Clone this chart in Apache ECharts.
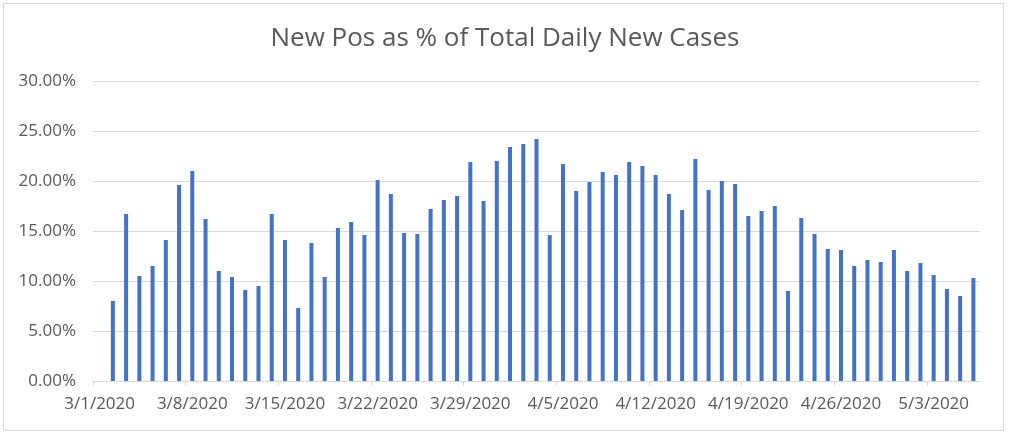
<!DOCTYPE html>
<html>
<head>
<meta charset="utf-8">
<script src="https://cdn.jsdelivr.net/npm/echarts@6/dist/echarts.min.js"></script>
<style>html,body{margin:0;padding:0;background:#fff}#c{width:1010px;height:433px}</style>
</head>
<body>
<div id="c"></div>
<script>
const titleText = 'New Pos as % of Total Daily New Cases';
const dates = [
 '3/1/2020','3/2/2020','3/3/2020','3/4/2020','3/5/2020','3/6/2020','3/7/2020','3/8/2020','3/9/2020','3/10/2020',
 '3/11/2020','3/12/2020','3/13/2020','3/14/2020','3/15/2020','3/16/2020','3/17/2020','3/18/2020','3/19/2020','3/20/2020',
 '3/21/2020','3/22/2020','3/23/2020','3/24/2020','3/25/2020','3/26/2020','3/27/2020','3/28/2020','3/29/2020','3/30/2020',
 '3/31/2020','4/1/2020','4/2/2020','4/3/2020','4/4/2020','4/5/2020','4/6/2020','4/7/2020','4/8/2020','4/9/2020',
 '4/10/2020','4/11/2020','4/12/2020','4/13/2020','4/14/2020','4/15/2020','4/16/2020','4/17/2020','4/18/2020','4/19/2020',
 '4/20/2020','4/21/2020','4/22/2020','4/23/2020','4/24/2020','4/25/2020','4/26/2020','4/27/2020','4/28/2020','4/29/2020',
 '4/30/2020','5/1/2020','5/2/2020','5/3/2020','5/4/2020','5/5/2020','5/6/2020'
];
// percent values (3/1 has no bar)
const newPosPct = [
 null,8.0,16.7,10.5,11.5,14.1,19.6,21.0,16.2,11.0,
 10.4,9.1,9.5,16.7,14.1,7.3,13.8,10.4,15.3,15.9,
 14.6,20.1,18.7,14.8,14.7,17.2,18.1,18.5,21.9,18.0,
 22.0,23.4,23.7,24.2,14.6,21.7,19.0,19.9,20.9,20.6,
 21.9,21.5,20.6,18.7,17.1,22.2,19.1,20.0,19.7,16.5,
 17.0,17.5,9.0,16.3,14.7,13.2,13.1,11.5,12.1,11.9,
 13.1,11.0,11.8,10.6,9.2,8.5,10.3
];
const yMin = 0, yMax = 30, yStep = 5;
const labelEvery = 7;
const tickIdx = dates.map((d, i) => i).filter(i => i % labelEvery === 0);

const chart = echarts.init(document.getElementById('c'), null, {renderer:'canvas'});
const textColor = '#595959';
const lineColor = '#d9d9d9';
chart.setOption({
  animation: false,
  backgroundColor: '#ffffff',
  title: {
    text: titleText,
    left: 'center',
    top: 21,
    textStyle: {fontFamily: 'Open Sans', fontSize: 26, fontWeight: 'normal', color: textColor}
  },
  graphic: [{
    type: 'rect', silent: true, z: -1,
    shape: {x: 3.5, y: 3.5, width: 1000, height: 427},
    style: {fill: 'none', stroke: lineColor, lineWidth: 1}
  }],
  grid: {left: 93, right: 30, top: 81, bottom: 52, containLabel: false},
  xAxis: [{
    type: 'category',
    data: dates,
    boundaryGap: true,
    axisLine: {show: true, lineStyle: {color: lineColor, width: 1}},
    axisTick: {show: false},
    axisLabel: {interval: labelEvery - 1, color: textColor, fontFamily: 'Open Sans', fontSize: 17, margin: 15}
  }, {
    type: 'value',
    position: 'bottom',
    min: 0, max: dates.length, interval: labelEvery,
    axisLine: {show: false},
    axisLabel: {show: false},
    splitLine: {show: false},
    axisTick: {show: true, length: 5, customValues: tickIdx, lineStyle: {color: lineColor}}
  }],
  yAxis: {
    type: 'value',
    min: yMin, max: yMax, interval: yStep,
    axisLine: {show: false},
    axisTick: {show: false},
    splitLine: {lineStyle: {color: lineColor, width: 1}},
    axisLabel: {color: textColor, fontFamily: 'Open Sans', fontSize: 17, margin: 17,
      formatter: v => v.toFixed(2) + '%'}
  },
  series: [{
    type: 'bar',
    xAxisIndex: 0,
    data: newPosPct,
    barWidth: 4,
    itemStyle: {color: '#4472C4'}
  }]
});
</script>
</body>
</html>
